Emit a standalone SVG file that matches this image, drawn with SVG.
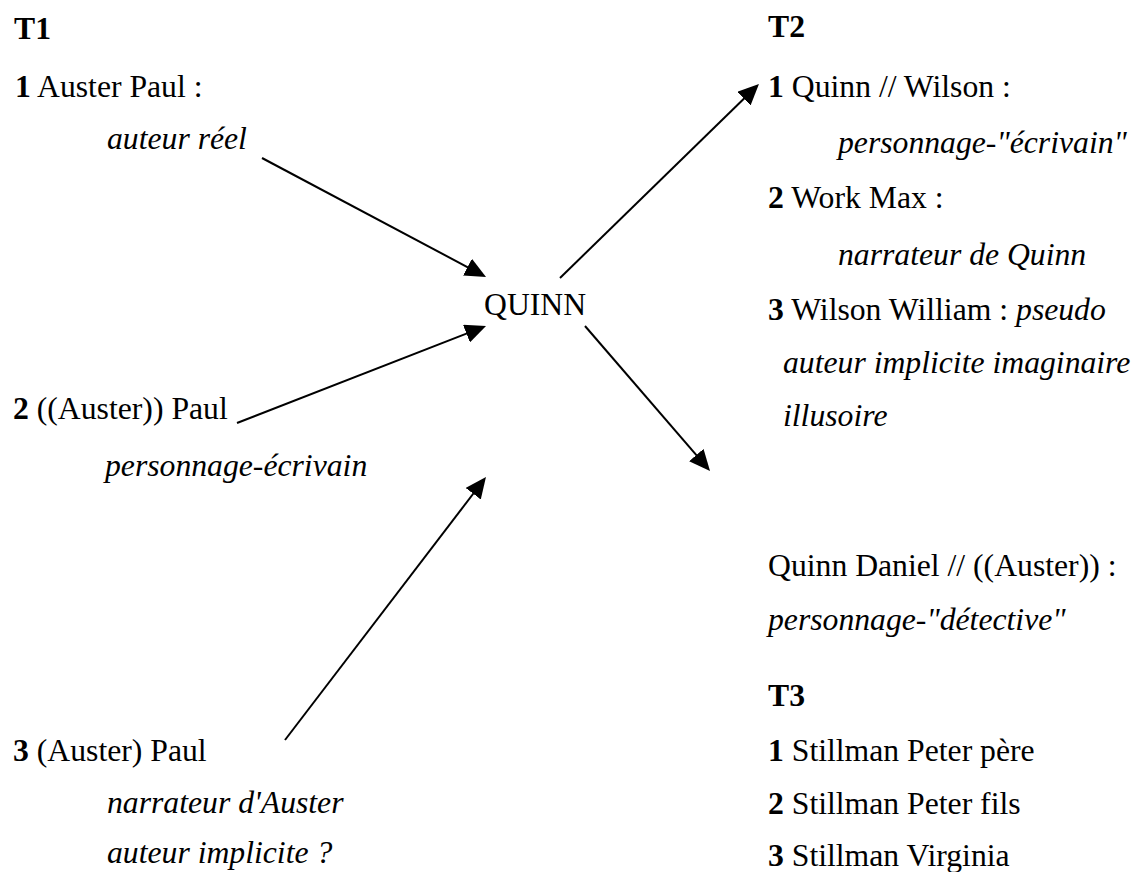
<svg xmlns="http://www.w3.org/2000/svg" width="1138" height="872" viewBox="0 0 1138 872">
<style>
text{font-family:"Liberation Serif","Times New Roman",serif;font-size:31.7px;fill:#000}
.b{font-weight:bold}
.i{font-style:italic}
.c{stroke:#000;stroke-width:2;fill:none}
</style>
<defs>
<marker id="ah" viewBox="0 0 21 19" refX="11" refY="9.5" markerWidth="21" markerHeight="19" markerUnits="userSpaceOnUse" orient="auto">
<path d="M0,0 L21,9.5 L0,19 Z" fill="#000"/>
</marker>
</defs>
<rect width="1138" height="872" fill="#fff"/>
<g id="t1">
<text x="14" y="39" class="b">T1</text>
<text x="15" y="97"><tspan class="b">1</tspan> Auster Paul :</text>
<text x="107" y="149" class="i">auteur réel</text>
<text x="13" y="419"><tspan class="b">2</tspan> ((Auster)) Paul</text>
<text x="105" y="476" class="i">personnage-écrivain</text>
<text x="13" y="761"><tspan class="b">3</tspan> (Auster) Paul</text>
<text x="107" y="813" class="i">narrateur d'Auster</text>
<text x="107" y="863" class="i">auteur implicite ?</text>
</g>
<g id="quinn">
<text x="484" y="315">QUINN</text>
</g>
<g id="t2">
<text x="768" y="37" class="b">T2</text>
<text x="768" y="97"><tspan class="b">1</tspan> Quinn // Wilson :</text>
<text x="838" y="153" class="i">personnage-"écrivain"</text>
<text x="768" y="208"><tspan class="b">2</tspan> Work Max :</text>
<text x="838" y="265" class="i">narrateur de Quinn</text>
<text x="768" y="320"><tspan class="b">3</tspan> Wilson William : <tspan class="i">pseudo</tspan></text>
<text x="783" y="373" class="i">auteur implicite imaginaire</text>
<text x="783" y="426" class="i">illusoire</text>
</g>
<g id="quinn-daniel">
<text x="768" y="576">Quinn Daniel // ((Auster)) :</text>
<text x="768" y="630" class="i">personnage-"détective"</text>
</g>
<g id="t3">
<text x="768" y="706" class="b">T3</text>
<text x="768" y="761"><tspan class="b">1</tspan> Stillman Peter père</text>
<text x="768" y="814"><tspan class="b">2</tspan> Stillman Peter fils</text>
<text x="768" y="866"><tspan class="b">3</tspan> Stillman Virginia</text>
</g>
<g id="connectors">
<line class="c" x1="262" y1="158" x2="477.2" y2="272.3" marker-end="url(#ah)"/>
<line class="c" x1="237" y1="423" x2="476.7" y2="329.6" marker-end="url(#ah)"/>
<line class="c" x1="285" y1="740" x2="479.9" y2="485" marker-end="url(#ah)"/>
<line class="c" x1="560" y1="278" x2="751.8" y2="91" marker-end="url(#ah)"/>
<line class="c" x1="585" y1="326" x2="703.5" y2="463.4" marker-end="url(#ah)"/>
</g>
</svg>
